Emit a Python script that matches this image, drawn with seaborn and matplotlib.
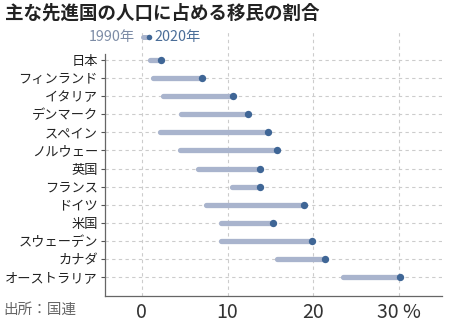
import numpy as np
import pandas as pd
import matplotlib
matplotlib.use("Agg")
import matplotlib.pyplot as plt
from matplotlib.lines import Line2D
import seaborn as sns

countries = ["日本", "フィンランド", "イタリア", "デンマーク", "スペイン", "ノルウェー", "英国",
             "フランス", "ドイツ", "米国", "スウェーデン", "カナダ", "オーストラリア"]
v1990 = [0.9, 1.3, 2.5, 4.6, 2.1, 4.5, 6.5, 10.5, 7.5, 9.2, 9.2, 15.8, 23.4]
v2020 = [2.2, 7.0, 10.6, 12.4, 14.7, 15.7, 13.8, 13.8, 18.9, 15.3, 19.8, 21.3, 30.1]
xticks = [0, 10, 20, 30]
xticklabels = ["0", "10", "20", "30 %"]

sns.set_theme(style="white")
plt.rcParams["font.family"] = ["Noto Sans CJK JP", "DejaVu Sans"]

BAR = "#a9b4cd"
DOT = "#3f6696"

df = pd.DataFrame({"country": countries, "v1990": v1990, "v2020": v2020})
df["pos"] = np.arange(len(df))
long = df.melt(id_vars=["country", "pos"], value_vars=["v1990", "v2020"],
               var_name="year", value_name="value")

fig = plt.figure(figsize=(4.7, 3.22), dpi=100)
ax = fig.add_axes([105 / 470, 1 - 296 / 322, (442 - 105) / 470, (296 - 30) / 322])

sns.lineplot(data=long, x="value", y="pos", units="country", estimator=None,
             sort=False, orient="y", color=BAR, linewidth=3.8,
             solid_capstyle="round", ax=ax, legend=False, zorder=3)
sns.scatterplot(data=df, x="v2020", y="pos", color=DOT, s=28, linewidth=0,
                ax=ax, legend=False, zorder=4)

n = len(countries)
ax.set_ylim(n - 1 + 1.05, -1.66)
ax.set_xlim(-4.3, 35)

# grid
for xv in xticks:
    ax.axvline(xv, color="#cccccc", lw=0.8, ls=(0, (3, 3)), zorder=1)
for i in range(n):
    ax.axhline(i, color="#cccccc", lw=0.8, ls=(0, (3, 3)), zorder=1)

ax.set_yticks(np.arange(n))
ax.set_yticklabels(countries, fontsize=9.5, color="#222222")
ax.set_xticks(xticks)
ax.set_xticklabels(xticklabels, fontsize=14, color="#333333")
ax.tick_params(axis="y", length=3, width=0.8, color="#555555", pad=2, left=True)
ax.tick_params(axis="x", length=0, pad=4)
ax.set_xlabel("")
ax.set_ylabel("")

for s in ["top", "right"]:
    ax.spines[s].set_visible(False)
for s in ["left", "bottom"]:
    ax.spines[s].set_color("#666666")
    ax.spines[s].set_linewidth(0.9)
ax.spines["left"].set_bounds(n - 1 + 1.05, -0.35)

# legend
ly = 1 - 37 / 322
fig.text(89 / 470, ly, "1990年", fontsize=10.3, color="#7d8ca6",
         ha="left", va="center")
fig.add_artist(Line2D([143 / 470, 147.5 / 470], [ly, ly],
                      color=BAR, lw=3.6, solid_capstyle="round", transform=fig.transFigure))
fig.add_artist(Line2D([149 / 470], [ly], marker="o", ms=4, color=DOT,
                      mew=0, transform=fig.transFigure))
fig.text(154 / 470, ly, "2020年", fontsize=10.3, color="#4a6d98",
         ha="left", va="center")

fig.text(5 / 470, 1 - 13 / 322, "主な先進国の人口に占める移民の割合", fontsize=13.3,
         fontweight="bold", color="#222222", ha="left", va="center")
fig.text(3 / 470, 1 - 310 / 322, "出所：国連", fontsize=10.5, color="#666666",
         ha="left", va="center")

fig.savefig("out.png", dpi=100)
